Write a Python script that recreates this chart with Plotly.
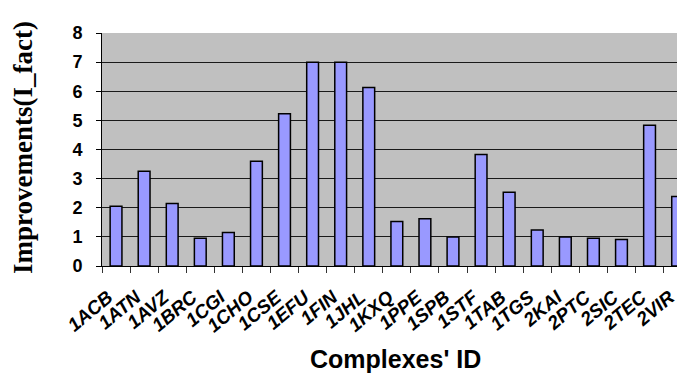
import plotly.graph_objects as go

categories = ["1ACB", "1ATN", "1AVZ", "1BRC", "1CGI", "1CHO", "1CSE", "1EFU", "1FIN", "1JHL",
              "1KXQ", "1PPE", "1SPB", "1STF", "1TAB", "1TGS", "2KAI", "2PTC", "2SIC", "2TEC", "2VIR"]
improvements = [2.05, 3.25, 2.15, 0.95, 1.15, 3.6, 5.23, 7.0, 7.0, 6.13,
                1.53, 1.62, 1.0, 3.83, 2.53, 1.24, 1.0, 0.95, 0.91, 4.83, 2.39]
y_ticks = [0, 1, 2, 3, 4, 5, 6, 7, 8]

# page body has an 8px margin; compensate so the plot lands where the reference has it
OFF = 8
W, H = 685 - OFF, 374 - OFF
ml, mr, mt, mb = 102 - OFF, 0, 33 - OFF, 108
pw = W - ml - mr
ph = H - mt - mb
cat_w = 28.08
xmax = -0.5 + pw / cat_w

fig = go.Figure()
fig.add_trace(go.Bar(
    x=categories, y=improvements,
    marker=dict(color="#9999FF", line=dict(color="black", width=1.5)),
    width=0.42,
))

sans = "Arial, Liberation Sans, sans-serif"
serif = "Times New Roman, Liberation Serif, serif"

fig.update_layout(
    width=W, height=H,
    margin=dict(l=ml, r=mr, t=mt, b=mb, pad=0),
    paper_bgcolor="white",
    plot_bgcolor="#C0C0C0",
    showlegend=False,
    xaxis=dict(
        type="category",
        range=[-0.5, xmax],
        tickvals=categories,
        ticktext=[c + "\u00a0\u00a0" for c in categories],
        showgrid=False,
        showline=True, linecolor="black", linewidth=1,
        ticks="outside", tickson="boundaries", ticklen=6, tickcolor="#333", tickwidth=1,
        tickangle=-40,
        ticklabelstandoff=5,
        tickfont=dict(family=sans, size=19, color="black", weight="bold", style="italic"),
        zeroline=False,
    ),
    yaxis=dict(
        range=[0, 8],
        tickvals=y_ticks,
        ticktext=[str(v) for v in y_ticks],
        showgrid=True, gridcolor="#1a1a1a", gridwidth=1,
        showline=True, linecolor="black", linewidth=1,
        ticks="outside", ticklen=5, tickcolor="black", tickwidth=1,
        ticklabelstandoff=10,
        tickfont=dict(family=sans, size=18, color="black", weight="bold"),
        zeroline=False,
    ),
    annotations=[
        dict(text="Improvements(I_fact)", xref="paper", yref="paper",
             x=(23 - 102) / pw, y=(266 - 148) / ph,
             xanchor="center", yanchor="middle", textangle=-90, showarrow=False,
             font=dict(family=serif, size=27, color="black", weight="bold")),
        dict(text="Complexes' ID", xref="paper", yref="paper",
             x=(395 - 102) / pw, y=(266 - 359) / ph,
             xanchor="center", yanchor="middle", showarrow=False,
             font=dict(family=sans, size=25, color="black", weight="bold")),
    ],
)

fig.write_html("out.html")
